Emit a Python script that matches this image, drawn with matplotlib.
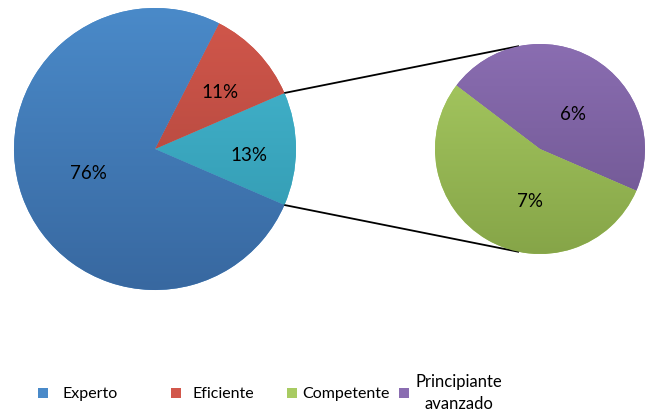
import numpy as np
import matplotlib
matplotlib.use("Agg")
import matplotlib.pyplot as plt
from matplotlib.colors import LinearSegmentedColormap
from matplotlib.patches import Rectangle

plt.rcParams['font.family'] = ['Lato', 'DejaVu Sans']

# datos
categorias = ['Experto', 'Eficiente', 'Competente', 'Principiante\navanzado']
porcentajes = [76, 11, 7, 6]
# colores (arriba, abajo) para el degradado
colores = [('#4a8ac9', '#3868a0'), ('#d2574b', '#a6423a'),
           ('#a8cb62', '#86a548'), ('#8a6db1', '#6c548e')]
color_otro = ('#46b9d2', '#2f94ab')

W, H = 648, 413
fig = plt.figure(figsize=(W / 100, H / 100), dpi=100)
ax = fig.add_axes([0, 0, 1, 1])

def gradiente(ax, wedges, cols, centro, r):
    for w, (c1, c2) in zip(wedges, cols):
        cmap = LinearSegmentedColormap.from_list('g', [c1, c2])
        grad = np.linspace(0, 1, 256).reshape(-1, 1)
        im = ax.imshow(grad, cmap=cmap, aspect='auto', origin='upper',
                       extent=(centro[0] - r, centro[0] + r, centro[1] - r, centro[1] + r),
                       zorder=2)
        im.set_clip_path(w)

def etiquetas(ax, wedges, textos, centro, r, dist, giro):
    for w, t, d, g in zip(wedges, textos, dist, giro):
        ang = np.deg2rad((w.theta1 + w.theta2) / 2 + g)
        ax.text(centro[0] + d * r * np.cos(ang), centro[1] + d * r * np.sin(ang), t,
                ha='center', va='center_baseline', fontsize=13.5, color='black', zorder=5)

# pastel principal: otros (13%), eficiente, experto
otro = porcentajes[2] + porcentajes[3]
c1, r1 = (155, H - 149), 141
val1 = [otro, porcentajes[1], porcentajes[0]]
ang0 = -otro / 100 * 360 / 2
w1, _ = ax.pie(val1, startangle=ang0, counterclock=True, center=c1, radius=r1,
               colors=[color_otro[0], colores[1][0], colores[0][0]], frame=True)
gradiente(ax, w1, [color_otro, colores[1], colores[0]], c1, r1)
etiquetas(ax, w1, [f'{v}%' for v in val1], c1, r1, [0.67, 0.62, 0.5], [-3, -1.5, -1])

# pastel secundario: principiante avanzado, competente
c2, r2 = (540, H - 149), 105
val2 = [porcentajes[3], porcentajes[2]]
w2, _ = ax.pie(val2, startangle=ang0, counterclock=True, center=c2, radius=r2,
               colors=[colores[3][0], colores[2][0]], frame=True)
gradiente(ax, w2, [colores[3], colores[2]], c2, r2)
etiquetas(ax, w2, [f'{v}%' for v in val2], c2, r2, [0.47, 0.5], [-12, 19])

# lineas de conexion
for a1, a2 in [(w1[0].theta2, 102), (w1[0].theta1, 258)]:
    p1 = (c1[0] + r1 * np.cos(np.deg2rad(a1)), c1[1] + r1 * np.sin(np.deg2rad(a1)))
    p2 = (c2[0] + r2 * np.cos(np.deg2rad(a2)), c2[1] + r2 * np.sin(np.deg2rad(a2)))
    ax.plot([p1[0], p2[0]], [p1[1], p2[1]], color='black', lw=1.3, zorder=1)

# leyenda
ley_x = [43, 176, 292, 404]
ley_tx = [63, 192, 302, 459]
ley_y = H - 393
for cat, (ca, cb), x, tx in zip(categorias, colores, ley_x, ley_tx):
    ax.add_patch(Rectangle((x - 5, ley_y - 5), 10, 10, facecolor=ca, edgecolor='none'))
    if '\n' in cat:
        ax.text(tx, ley_y, cat, ha='center', va='center', fontsize=12,
                multialignment='center', linespacing=1.45)
    else:
        ax.text(tx, ley_y - 1, cat, ha='left', va='center', fontsize=11.5)

ax.set_xlim(0, W)
ax.set_ylim(0, H)
ax.set_aspect('auto')
ax.axis('off')
fig.savefig('out.png', dpi=100)
